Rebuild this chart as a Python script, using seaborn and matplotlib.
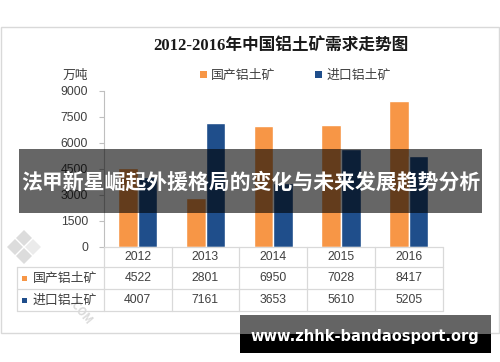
import matplotlib
matplotlib.use('Agg')
import matplotlib.pyplot as plt
import seaborn as sns
import pandas as pd
from matplotlib.patches import Rectangle, Polygon
from matplotlib.lines import Line2D

# ---- data ----
years = ['2012', '2013', '2014', '2015', '2016']
series = ['国产铝土矿', '进口铝土矿']
domestic = [4522, 2801, 6950, 7028, 8417]
imported = [4007, 7161, 3653, 5610, 5205]
yticks = [0, 1500, 3000, 4500, 6000, 7500, 9000]
colors = ['#F79646', '#1F4E8B']
title = '2012-2016年中国铝土矿需求走势图'
unit = '万吨'
banner = '法甲新星崛起外援格局的变化与未来发展趋势分析'
site = 'www.zhhk-bandaosport.org'

sns.set_theme(style='white')
plt.rcParams['font.family'] = ['Noto Sans CJK SC', 'DejaVu Sans']

W, H = 500, 362
fig = plt.figure(figsize=(5, 3.62), dpi=100)
fig.patch.set_facecolor('white')


def fx(x):
    return x / W


def fy(y):
    return 1 - y / H


TXT = '#404040'
GRID = '#D9D9D9'

# outer chart border
fig.add_artist(Rectangle((fx(0.7), fy(333.3)), fx(499) - fx(0.7), fy(27.3) - fy(333.3),
                         transform=fig.transFigure, facecolor='none', edgecolor=GRID, lw=1))

ax = fig.add_axes([fx(104), fy(246.7), fx(442.5) - fx(104), fy(90.7) - fy(246.7)])
df = pd.DataFrame({'year': years * 2,
                   'series': [series[0]] * len(years) + [series[1]] * len(years),
                   'value': domestic + imported})
sns.barplot(data=df, x='year', y='value', hue='series', palette=colors, width=0.58,
            gap=0, saturation=1, ax=ax, legend=False, errorbar=None)
ax.set_ylim(0, 9000)
ax.set_xlim(-0.5, len(years) - 0.5)
ax.set_yticks(yticks)
ax.set_yticklabels([str(v) for v in yticks], family='Liberation Sans', fontsize=8.8, color=TXT)
ax.set_xticks([])
ax.set_xlabel('')
ax.set_ylabel('')
ax.tick_params(axis='y', left=True, length=3.6, width=0.8, color='#BFBFBF', pad=8)
for s in ['top', 'right', 'bottom']:
    ax.spines[s].set_visible(False)
ax.spines['left'].set_color('#BFBFBF')
ax.spines['left'].set_linewidth(0.8)
ax.set_facecolor('none')

# title, unit, legend
fig.text(fx(281), fy(46.7), title, ha='center', va='center', fontsize=12, fontweight='bold',
         family=['Liberation Serif', 'Noto Sans CJK SC'], color='#1a1a1a')
fig.text(fx(88), fy(75), unit, ha='right', va='center', fontsize=9.2, color=TXT)
leg = [(200, 210.5, series[0], colors[0]), (315, 326.5, series[1], colors[1])]
for sx, tx, lab, c in leg:
    fig.add_artist(Rectangle((fx(sx), fy(78)), fx(6.5), 6.5 / H, transform=fig.transFigure,
                             facecolor=c, edgecolor='none'))
    fig.text(fx(tx), fy(75), lab, ha='left', va='center', fontsize=9.3, color=TXT)

# faint logo watermark (behind table)
wm = '#D4D4D4'
for (cx, cy, a) in [(24, 238, 0.8), (15, 247, 0.8), (24, 256, 0.8), (33, 247, 0.45)]:
    pts = [(fx(cx), fy(cy - 8)), (fx(cx + 8), fy(cy)), (fx(cx), fy(cy + 8)), (fx(cx - 8), fy(cy))]
    fig.add_artist(Polygon(pts, closed=True, transform=fig.transFigure, facecolor=wm,
                           edgecolor='none', alpha=a))
fig.text(fx(80), fy(312), '.COM', rotation=-50, ha='center', va='center', fontsize=8,
         color='#DADADA', fontweight='bold')

# data table
cols = [104, 171.7, 239, 306.7, 375, 442.7]
rows = [246.7, 267, 288.5, 311]
for i, y in enumerate(rows):
    x0 = 104 if i == 0 else 16.7
    fig.add_artist(Line2D([fx(x0), fx(cols[-1])], [fy(y), fy(y)], transform=fig.transFigure,
                          color=GRID, lw=0.9))
for x in cols:
    fig.add_artist(Line2D([fx(x), fx(x)], [fy(rows[0]), fy(rows[-1])], transform=fig.transFigure,
                          color=GRID, lw=0.9))
fig.add_artist(Line2D([fx(16.7), fx(16.7)], [fy(rows[1]), fy(rows[-1])], transform=fig.transFigure,
                      color=GRID, lw=0.9))

centers = [(cols[i] + cols[i + 1]) / 2 for i in range(len(years))]
for cx, yr in zip(centers, years):
    fig.text(fx(cx), fy(257), yr, ha='center', va='center', family='Liberation Sans',
             fontsize=8.8, color=TXT)
for ry, lab, c, vals in [(278, series[0], colors[0], domestic), (300, series[1], colors[1], imported)]:
    fig.add_artist(Rectangle((fx(21.5), fy(ry + 3)), fx(5.5), 5.5 / H, transform=fig.transFigure,
                             facecolor=c, edgecolor='none'))
    fig.text(fx(33), fy(ry), lab, ha='left', va='center', fontsize=9.3, color=TXT)
    for cx, v in zip(centers, vals):
        fig.text(fx(cx), fy(ry), str(v), ha='center', va='center', family='Liberation Sans',
                 fontsize=8.8, color=TXT)

# banner overlay
fig.add_artist(Rectangle((fx(19), fy(212.5)), fx(482) - fx(19), fy(149.5) - fy(212.5),
                         transform=fig.transFigure, facecolor='black', alpha=0.6,
                         edgecolor='none', zorder=10))
fig.text(fx(250.5), fy(182), banner, ha='center', va='center', fontsize=15, fontweight='bold',
         color='white', zorder=11)

# site watermark
fig.add_artist(Rectangle((fx(240), fy(334)), fx(491) - fx(240), fy(315) - fy(334),
                         transform=fig.transFigure, facecolor='#646464', edgecolor='none', zorder=10))
fig.add_artist(Rectangle((fx(240), fy(352.7)), fx(491) - fx(240), fy(334) - fy(352.7),
                         transform=fig.transFigure, facecolor='black', edgecolor='none', zorder=10))
fig.text(fx(364.5), fy(337), site, ha='center', va='center', fontsize=10.5, fontweight='bold',
         family='DejaVu Sans', color='white', zorder=11)

fig.savefig('out.png', dpi=100, facecolor='white')
